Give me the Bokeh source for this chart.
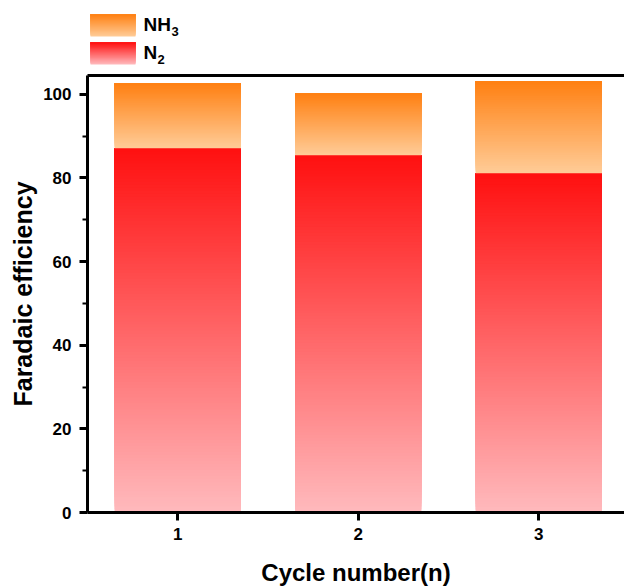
import numpy as np
from bokeh.plotting import figure
from bokeh.models import Range1d, FixedTicker, LinearAxis, ColumnDataSource
from bokeh.layouts import column
from bokeh.embed import file_html
from bokeh.resources import INLINE
from bokeh.core.properties import value

# ---- data ----
cycles = [1, 2, 3]
n2 = [87.1, 85.4, 81.1]
nh3 = [15.5, 14.8, 22.0]
x_tick_labels = ["1", "2", "3"]
y_ticks = [0, 20, 40, 60, 80, 100]
y_minor = [10, 30, 50, 70, 90]
series_names = ["NH", "N"]
series_subs = ["3", "2"]

# ---- style ----
FONT = "Liberation Sans"
N2_TOP, N2_BOT = (255, 16, 16), (255, 186, 189)
NH3_TOP, NH3_BOT = (255, 128, 18), (255, 204, 152)
BAR_W = 0.70
LEG_H = 66
W, H = 624, 588


def hexc(c):
    return "#%02x%02x%02x" % tuple(int(round(v)) for v in c)


def mix(a, b, t):
    return tuple(a[k] + (b[k] - a[k]) * t for k in range(3))


def add_gradient(out, l, r, y0, y1, top, bot, n):
    # each slice runs from its own lower edge to the segment's upper end;
    # later (higher) slices paint over earlier ones, so no seams appear
    edges = np.linspace(y0, y1, n + 1)
    for j in range(n):
        t = (j + 0.5) / n
        out["left"].append(l)
        out["right"].append(r)
        out["bottom"].append(edges[j])
        out["top"].append(y1)
        out["color"].append(hexc(mix(bot, top, t)))


# ---- main figure ----
p = figure(width=W, height=H - LEG_H, x_range=Range1d(0.5, 3.475), y_range=Range1d(0, 104.5),
           output_backend="svg", toolbar_location=None,
           min_border_left=87, min_border_right=0, min_border_top=9, min_border_bottom=76)
p.outline_line_color = None
p.xgrid.visible = False
p.ygrid.visible = False

bars = {"left": [], "right": [], "bottom": [], "top": [], "color": []}
for c, a, b in zip(cycles, n2, nh3):
    add_gradient(bars, c - BAR_W / 2, c + BAR_W / 2, 0, a, N2_TOP, N2_BOT, 120)
    add_gradient(bars, c - BAR_W / 2, c + BAR_W / 2, a, a + b, NH3_TOP, NH3_BOT, 50)
p.quad(left="left", right="right", bottom="bottom", top="top", fill_color="color",
       line_color=None, source=ColumnDataSource(bars))

xa = p.xaxis[0]
xa.ticker = FixedTicker(ticks=cycles)
xa.major_label_overrides = {c: s for c, s in zip(cycles, x_tick_labels)}
xa.minor_tick_line_color = None
xa.axis_label = "Cycle number(n)"

ya = p.yaxis[0]
ya.ticker = FixedTicker(ticks=y_ticks, minor_ticks=y_minor)
ya.axis_label = "Faradaic efficiency"

for ax in (xa, ya):
    ax.axis_line_width = 3
    ax.axis_line_color = "black"
    ax.major_tick_line_width = 3
    ax.major_tick_in = 0
    ax.major_tick_out = 8
    ax.minor_tick_in = 0
    ax.minor_tick_out = 5
    ax.minor_tick_line_width = 2
    ax.major_label_text_font = FONT
    ax.major_label_text_font_style = "bold"
    ax.major_label_text_font_size = "17px"
    ax.major_label_text_color = "black"
    ax.axis_label_text_font = FONT
    ax.axis_label_text_font_style = "bold"
    ax.axis_label_text_color = "black"
xa.axis_label_text_font_size = "24px"
ya.axis_label_text_font_size = "25px"
xa.major_label_standoff = 7
xa.axis_label_standoff = 16
ya.major_label_standoff = 8
ya.axis_label_standoff = 3

top_ax = LinearAxis(ticker=FixedTicker(ticks=[]), major_tick_out=0, minor_tick_out=0,
                    major_tick_in=0, minor_tick_in=0, major_label_text_font_size="0px",
                    major_label_standoff=0, axis_line_width=3, axis_line_color="black")
p.add_layout(top_ax, "above")

# ---- legend strip (page-pixel coordinates) ----
lg = figure(width=W, height=LEG_H, x_range=Range1d(87, W), y_range=Range1d(LEG_H, 0),
            output_backend="svg", toolbar_location=None,
            min_border_left=87, min_border_right=0, min_border_top=0, min_border_bottom=0)
lg.axis.visible = False
lg.xgrid.visible = False
lg.ygrid.visible = False
lg.outline_line_color = None

sw = {"left": [], "right": [], "bottom": [], "top": [], "color": []}
swatch_y = [(36, 14), (64, 42)]
swatch_cols = [(NH3_TOP, NH3_BOT), (N2_TOP, N2_BOT)]
for (yb, yt), (ct, cb) in zip(swatch_y, swatch_cols):
    add_gradient(sw, 90, 135, yb, yt, ct, cb, 30)
lg.quad(left="left", right="right", bottom="bottom", top="top", fill_color="color",
        line_color=None, source=ColumnDataSource(sw))

lg.text(x=[143, 143], y=[24, 52], text=series_names, text_font=value(FONT),
        text_font_style="bold", text_font_size="19px", text_baseline="middle",
        text_color="black")
lg.text(x=[171, 157], y=[31, 59], text=series_subs, text_font=value(FONT),
        text_font_style="bold", text_font_size="13px", text_baseline="middle",
        text_color="black")

layout = column(lg, p, spacing=0)
open("out.html", "w").write(file_html(layout, INLINE))
